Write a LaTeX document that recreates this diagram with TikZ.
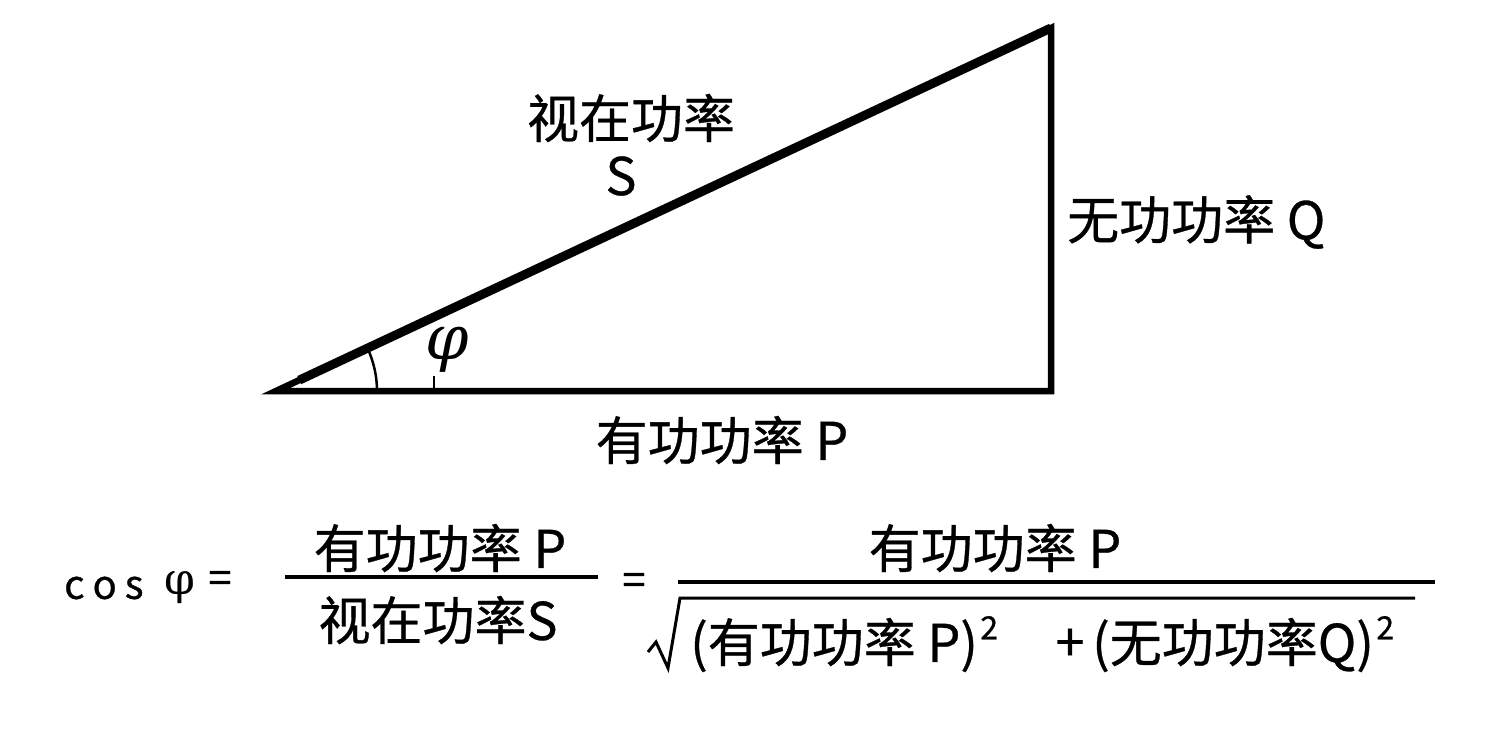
\documentclass[tikz,border=0pt]{standalone}
\usepackage{fontspec}
\newfontfamily\cjk[FakeBold=0.6]{Noto Sans CJK SC}
\newfontfamily\gk{DejaVu Serif}
\usetikzlibrary{calc}
\begin{document}
\begin{tikzpicture}[x=1pt,y=-1pt,
  lbl/.style={font=\cjk\fontsize{52}{60}\selectfont, inner sep=0pt},
  supr/.style={font=\cjk\fontsize{32}{34}\selectfont, inner sep=0pt},
  sideline/.style={line width=6.5pt, line join=miter},
  hypline/.style={line width=9pt, line cap=butt},
  thin/.style={line width=2.5pt},
  bar/.style={line width=3.5pt},
]
\fill[white] (0,0) rectangle (1489,739);
\useasboundingbox (0,0) rectangle (1489,739);
% triangle
\coordinate (A) at (276,391);
\coordinate (B) at (1051,391);
\coordinate (C) at (1051,28);
\draw[sideline] (A) -- (B) -- (C) -- cycle;
\draw[hypline] ($(A)!0.03!(C)$) -- (C);
% angle
\draw[thin] ($(A)+(101,0)$) arc[start angle=0, end angle=-25.1, radius=101];
\coordinate (t1) at (434,376);
\coordinate (t2) at (434,391);
\draw[thin] (t1) -- (t2);
\node[inner sep=0pt, font=\gk\itshape\fontsize{62}{62}\selectfont] (phi) at (447,350) {φ};
% labels
\node[lbl] (s1) at (631,118) {视在功率};
\node[lbl] (s2) at (621,176) {S};
\node[lbl, anchor=west] (q) at (1067,222) {无功功率 Q};
\node[lbl] (p) at (722,440) {有功功率 P};
% formula
\node[font=\cjk\fontsize{40}{40}\selectfont, inner sep=0pt, anchor=west] (cos) at (64,588) {c\hspace{8pt}o\hspace{8pt}s};
\node[inner sep=0pt, font=\gk\fontsize{44}{44}\selectfont] (phi2) at (180,588) {φ};
\node[inner sep=0pt, font=\cjk\fontsize{42}{42}\selectfont] (eq1) at (220,582) {=};
\node[lbl] (n1) at (440,548) {有功功率 P};
\coordinate (f1a) at (285,577);
\coordinate (f1b) at (598,577);
\draw[bar] (f1a) -- (f1b);
\node[lbl] (d1) at (438,620) {视在功率S};
\node[inner sep=0pt, font=\cjk\fontsize{42}{42}\selectfont] (eq2) at (634,584) {=};
\node[lbl] (n2) at (995,548) {有功功率 P};
\coordinate (f2a) at (678,582);
\coordinate (f2b) at (1435,582);
\draw[bar] (f2a) -- (f2b);
\coordinate (r1) at (648,652);
\coordinate (r2) at (656,642);
\coordinate (r3) at (668,668);
\coordinate (r4) at (680,598);
\coordinate (r5) at (1415,598);
\draw[line width=3pt, line join=miter] (r1) -- (r2) -- (r3) -- (r4) -- (r5);
\node[lbl, anchor=west] (g1) at (690,645) {(有功功率 P)};
\node[supr, anchor=west] (e1) at ($(g1.north east)+(2,10)$) {2};
\node[lbl] (plus) at (1070,645) {+};
\node[lbl, anchor=west] (g2) at (1092,645) {(无功功率Q)};
\node[supr, anchor=west] (e2) at ($(g2.north east)+(2,10)$) {2};
\end{tikzpicture}
\end{document}
